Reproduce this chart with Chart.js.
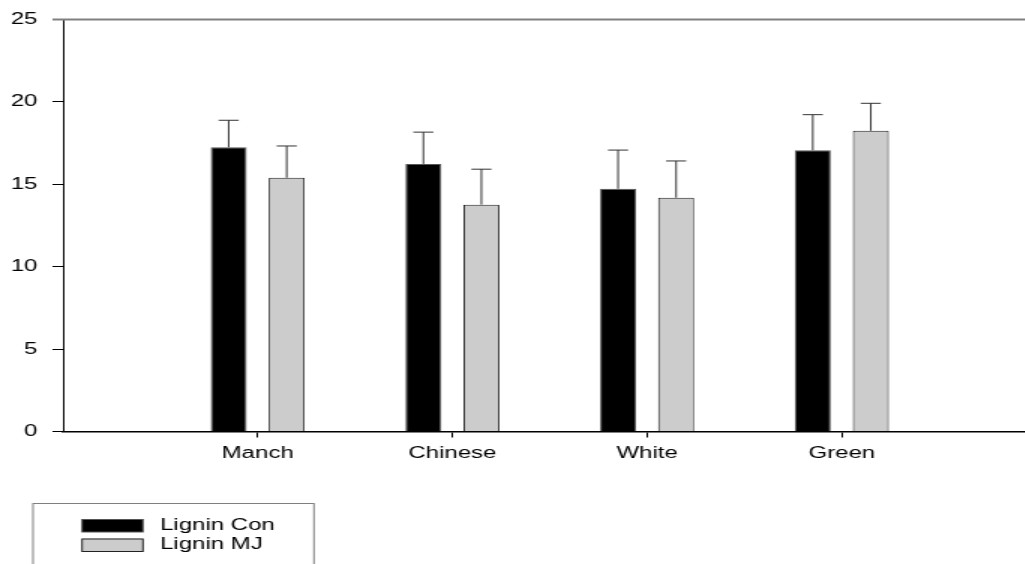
<!DOCTYPE html>
<html>
<head>
<meta charset="utf-8">
<script src="https://cdn.jsdelivr.net/npm/chart.js@4/dist/chart.umd.min.js"></script>
<style>
  html, body { margin: 0; padding: 0; background: #fff; overflow: hidden; }
  #wrap { width: 698px; height: 564px; transform: scaleX(1.5); transform-origin: 0 0; }
  canvas { display: block; }
</style>
</head>
<body>
<div id="wrap"><canvas id="chart" width="698" height="564"></canvas></div>
<script>
// Lignin content per cultivar, control vs. MJ treatment
const categories = ['Manch', 'Chinese', 'White', 'Green'];
const ligninCon = [17.25, 16.24, 14.73, 17.07];
const ligninMJ = [15.40, 13.77, 14.19, 18.25];
const ligninConErr = [1.64, 1.93, 2.35, 2.16];
const ligninMJErr = [1.93, 2.15, 2.23, 1.67];
const yTicks = [0, 5, 10, 15, 20, 25];

// one empty slot on each side of the four cultivars
const pad = arr => [null, ...arr, null];
const labels = ['', ...categories, ''];

const FONT = { family: '"Liberation Sans", Arial, sans-serif', size: 16 };

// upward-only error bars with a cap
const errorBars = {
  id: 'errorBars',
  afterDatasetsDraw(chart) {
    const { ctx } = chart;
    const yScale = chart.scales.y;
    ctx.save();
    chart.data.datasets.forEach((ds, i) => {
      const meta = chart.getDatasetMeta(i);
      meta.data.forEach((bar, j) => {
        const v = ds.data[j];
        const e = ds.errors[j];
        if (v == null || e == null) return;
        const x = bar.x;
        const yTop = yScale.getPixelForValue(v + e);
        const yBar = yScale.getPixelForValue(v);
        ctx.strokeStyle = '#333';
        ctx.lineWidth = 1;
        ctx.beginPath();
        ctx.moveTo(x, yBar);
        ctx.lineTo(x, yTop);
        ctx.moveTo(x - 6.7, yTop);
        ctx.lineTo(x + 6.7, yTop);
        ctx.stroke();
      });
    });
    ctx.restore();
  }
};

// grey frame line along the top of the plot
const topFrame = {
  id: 'topFrame',
  afterDraw(chart) {
    const { ctx, chartArea } = chart;
    ctx.save();
    ctx.strokeStyle = '#808080';
    ctx.lineWidth = 2;
    ctx.beginPath();
    ctx.moveTo(chartArea.left - 7, chartArea.top);
    ctx.lineTo(chartArea.right, chartArea.top);
    ctx.stroke();
    ctx.restore();
  }
};

// boxed legend in the lower-left corner
const boxLegend = {
  id: 'boxLegend',
  afterDraw(chart) {
    const { ctx } = chart;
    ctx.save();
    ctx.strokeStyle = '#808080';
    ctx.lineWidth = 1;
    ctx.strokeRect(22, 503.5, 187.3, 80);
    ctx.font = FONT.size + 'px ' + FONT.family;
    ctx.textBaseline = 'middle';
    ctx.textAlign = 'left';
    chart.data.datasets.forEach((ds, i) => {
      const y = 519 + i * 19.5;
      ctx.fillStyle = ds.backgroundColor;
      ctx.fillRect(54.7, y, 40.6, 13);
      ctx.strokeStyle = ds.borderColor;
      ctx.strokeRect(54.7, y + 0.5, 40.6, 12.5);
      ctx.fillStyle = '#000';
      ctx.fillText(ds.label, 106.7, y + 6.5);
    });
    ctx.restore();
  }
};

Chart.defaults.color = '#000';
Chart.defaults.font.family = FONT.family;
Chart.defaults.font.size = FONT.size;

new Chart(document.getElementById('chart'), {
  type: 'bar',
  data: {
    labels: labels,
    datasets: [
      {
        label: 'Lignin Con',
        data: pad(ligninCon),
        errors: pad(ligninConErr),
        backgroundColor: '#000000',
        borderColor: '#555555',
        borderWidth: 1,
        categoryPercentage: 0.596,
        barPercentage: 0.62
      },
      {
        label: 'Lignin MJ',
        data: pad(ligninMJ),
        errors: pad(ligninMJErr),
        backgroundColor: '#cccccc',
        borderColor: '#222222',
        borderWidth: 1,
        categoryPercentage: 0.596,
        barPercentage: 0.62
      }
    ]
  },
  options: {
    responsive: false,
    animation: false,
    devicePixelRatio: 1,
    layout: { padding: { top: 16.5, right: 7, bottom: 0, left: 0 } },
    plugins: { legend: { display: false }, tooltip: { enabled: false } },
    scales: {
      x: {
        offset: false,
        afterFit: s => { s.height = 132.5; },
        border: { display: true, color: '#000', width: 1.5 },
        grid: {
          offset: false,
          drawOnChartArea: false,
          tickLength: 6,
          tickColor: c => (c.index === 0 || c.index === labels.length - 1) ? 'rgba(0,0,0,0)' : '#000'
        },
        ticks: { autoSkip: false, maxRotation: 0, padding: 6, color: '#000', font: FONT }
      },
      y: {
        min: yTicks[0],
        max: yTicks[yTicks.length - 1],
        afterFit: s => { s.width = 42; },
        afterBuildTicks: s => { s.ticks = yTicks.map(v => ({ value: v })); },
        border: { display: true, color: '#000', width: 1 },
        grid: { drawOnChartArea: false, tickLength: 7, tickColor: '#000' },
        ticks: { padding: 10, color: '#000', font: FONT }
      }
    }
  },
  plugins: [errorBars, topFrame, boxLegend]
});
</script>
</body>
</html>
